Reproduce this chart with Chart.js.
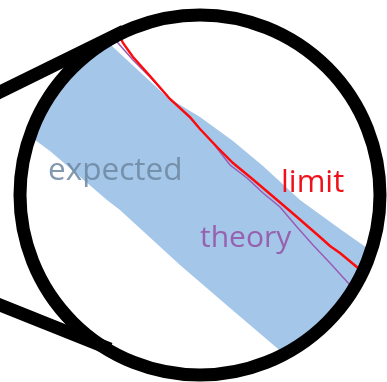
<!DOCTYPE html>
<html>
<head>
<meta charset="utf-8">
<script src="https://cdn.jsdelivr.net/npm/chart.js"></script>
<style>
  html, body { margin: 0; padding: 0; background: #fff; }
  #wrap { width: 387px; height: 382px; position: relative; }
</style>
</head>
<body>
<div id="wrap"><canvas id="chart"></canvas></div>
<script>
// Lens (circle) center, in picture units
const ringX = [200];
const ringY = [195];

// Tangent lines leading to the lens
const tangentTopX = [-5, 124];
const tangentTopY = [94.5, 31];
const tangentBottomX = [-5, 110];
const tangentBottomY = [303, 349];

// Expected band outline (upper edge then lower edge)
const bandX = [10, 95, 113, 140, 167, 200, 233, 263, 300, 340, 367, 400, 305, 277, 230, 180, 120, 107, 50, 35];
const bandY = [120, 28, 47, 72, 97, 117, 141, 166, 200, 229, 248, 275, 375, 348, 308, 265, 210, 200, 151, 140];

// Observed limit
const limitX = [119, 123, 133, 150, 170, 190, 200, 217, 233, 250, 263, 283, 297, 320, 330, 340, 358, 364];
const limitY = [35, 43, 57, 76, 99, 117, 129, 147, 163, 177, 188, 205, 217, 237, 246, 253, 268, 274];

// Theory curve
const theoryX = [114, 118, 133, 150, 170, 190, 213, 230, 247, 263, 280, 297, 313, 330, 350, 356];
const theoryY = [35, 43, 60, 77, 99, 118, 143, 165, 178, 193, 207, 227, 245, 263, 285, 292];

// Labels
const labelText = ['expected', 'limit', 'theory'];
const labelX = [48, 281, 200];
const labelY = [180, 192, 247];

function pts(xs, ys) {
  return xs.map((x, i) => ({ x: x, y: ys[i] }));
}

// Clip the band and both curves to the inside of the lens.
// The filler paints in beforeDatasetDraw, so the clip is set once before all datasets
// and released after the last clipped dataset has been drawn.
const lensClip = {
  id: 'lensClip',
  beforeDatasetsDraw(chart) {
    const xs = chart.scales.x, ys = chart.scales.y;
    const ctx = chart.ctx;
    ctx.save();
    ctx.beginPath();
    ctx.arc(xs.getPixelForValue(ringX[0]), ys.getPixelForValue(ringY[0]), 180, 0, Math.PI * 2);
    ctx.clip();
    this._left = chart.data.datasets.filter(d => d.lensClip).length;
  },
  afterDatasetDraw(chart, args) {
    const ds = chart.data.datasets[args.index];
    if (!ds.lensClip || this._left <= 0) return;
    this._left--;
    if (this._left === 0) chart.ctx.restore();
  }
};

const labelColors = ['rgba(108,134,160,0.85)', '#f0101a', '#9661ae'];
const labelFonts = ['31.5px "Open Sans"', '31px "Open Sans"', '30px "Open Sans"'];

const labelsPlugin = {
  id: 'labels',
  afterDatasetsDraw(chart) {
    const ctx = chart.ctx;
    const xs = chart.scales.x, ys = chart.scales.y;
    ctx.save();
    ctx.textAlign = 'left';
    ctx.textBaseline = 'alphabetic';
    labelText.forEach((t, i) => {
      ctx.font = labelFonts[i];
      ctx.fillStyle = labelColors[i];
      ctx.fillText(t, xs.getPixelForValue(labelX[i]), ys.getPixelForValue(labelY[i]));
    });
    ctx.restore();
  }
};

new Chart(document.getElementById('chart'), {
  type: 'scatter',
  data: {
    datasets: [
      {
        label: 'lens',
        data: pts(ringX, ringY),
        pointRadius: 180,
        pointBorderWidth: 13,
        pointBorderColor: '#000',
        pointBackgroundColor: 'rgba(0,0,0,0)',
        clip: false,
        order: 0
      },
      {
        label: 'tangent top',
        data: pts(tangentTopX, tangentTopY),
        showLine: true,
        pointRadius: 0,
        borderColor: '#000',
        borderWidth: 13,
        order: 1
      },
      {
        label: 'tangent bottom',
        data: pts(tangentBottomX, tangentBottomY),
        showLine: true,
        pointRadius: 0,
        borderColor: '#000',
        borderWidth: 13,
        order: 1
      },
      {
        label: 'limit',
        data: pts(limitX, limitY),
        showLine: true,
        pointRadius: 0,
        borderColor: '#ff0a0a',
        borderWidth: 2.4,
        lensClip: true,
        order: 2
      },
      {
        label: 'theory',
        data: pts(theoryX, theoryY),
        showLine: true,
        pointRadius: 0,
        borderColor: '#9a5bb5',
        borderWidth: 1.5,
        lensClip: true,
        order: 3
      },
      {
        label: 'expected',
        data: pts(bandX, bandY),
        showLine: true,
        pointRadius: 0,
        borderWidth: 0,
        borderColor: 'rgba(0,0,0,0)',
        backgroundColor: '#a4c6e9',
        fill: 'shape',
        lensClip: true,
        order: 4
      }
    ]
  },
  options: {
    responsive: true,
    maintainAspectRatio: false,
    animation: false,
    events: [],
    layout: { padding: 0, autoPadding: false },
    plugins: {
      legend: { display: false },
      tooltip: { enabled: false }
    },
    scales: {
      x: { type: 'linear', min: 0, max: 387, display: false },
      y: { type: 'linear', min: 0, max: 382, reverse: true, display: false }
    }
  },
  plugins: [lensClip, labelsPlugin]
});
</script>
</body>
</html>
